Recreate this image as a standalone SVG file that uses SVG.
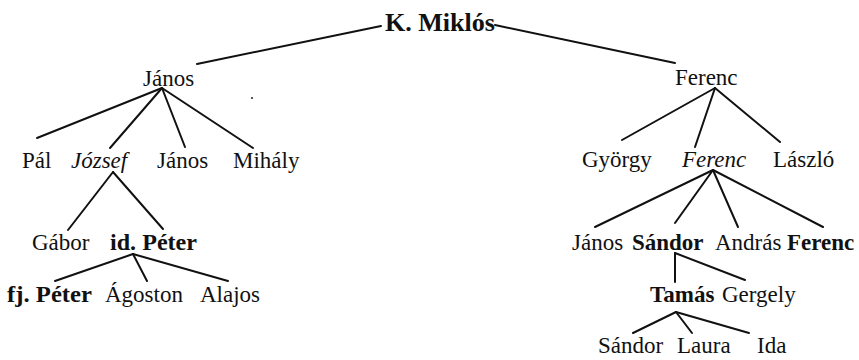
<svg xmlns="http://www.w3.org/2000/svg" width="859" height="360" viewBox="0 0 859 360" font-family="Liberation Serif, DejaVu Serif, serif">
<style>
text{font-size:23px;fill:#111}
.b{font-weight:bold}
.i{font-style:italic}
.root{font-size:26px;font-weight:bold}
#edges line{stroke:#111;stroke-width:2;stroke-linecap:round}
</style>
<rect width="859" height="360" fill="#fff"/>
<g id="edges">
<line x1="381" y1="26" x2="197" y2="64"/>
<line x1="495" y1="25" x2="675" y2="63"/>
<line x1="162" y1="88" x2="37" y2="138"/>
<line x1="162" y1="88" x2="110" y2="148"/>
<line x1="162" y1="88" x2="185" y2="147"/>
<line x1="162" y1="88" x2="253" y2="148"/>
<line x1="113" y1="172" x2="68" y2="230"/>
<line x1="113" y1="172" x2="163" y2="229"/>
<line x1="133" y1="254" x2="55" y2="281"/>
<line x1="133" y1="254" x2="147" y2="281"/>
<line x1="133" y1="254" x2="228" y2="281"/>
<line x1="715" y1="88" x2="622" y2="140"/>
<line x1="715" y1="88" x2="695" y2="147"/>
<line x1="715" y1="88" x2="780" y2="142"/>
<line x1="713" y1="170" x2="595" y2="227"/>
<line x1="713" y1="170" x2="675" y2="223"/>
<line x1="713" y1="170" x2="738" y2="227"/>
<line x1="713" y1="170" x2="823" y2="227"/>
<line x1="675" y1="253" x2="675" y2="282"/>
<line x1="675" y1="253" x2="745" y2="280"/>
<line x1="676" y1="312" x2="633" y2="333"/>
<line x1="676" y1="312" x2="692" y2="333"/>
<line x1="676" y1="312" x2="749" y2="333"/>
</g>
<circle cx="252" cy="98" r="1.1" fill="#333"/>
<g id="n-miklos"><text class="root" x="385" y="31" textLength="110" lengthAdjust="spacingAndGlyphs">K. Miklós</text></g>
<g id="n-janos1"><text x="143" y="86">János</text></g>
<g id="n-ferenc1"><text x="675" y="85">Ferenc</text></g>
<g id="n-pal"><text x="22" y="168">Pál</text></g>
<g id="n-jozsef"><text class="i" x="71" y="168">József</text></g>
<g id="n-janos2"><text x="157" y="168">János</text></g>
<g id="n-mihaly"><text x="233" y="168">Mihály</text></g>
<g id="n-gyorgy"><text x="582" y="167">György</text></g>
<g id="n-ferenc2"><text class="i" x="682" y="167">Ferenc</text></g>
<g id="n-laszlo"><text x="773" y="167">László</text></g>
<g id="n-gabor"><text x="32" y="250">Gábor</text></g>
<g id="n-idpeter"><text class="b" x="110" y="250" textLength="87" lengthAdjust="spacingAndGlyphs">id. Péter</text></g>
<g id="n-fjpeter"><text class="b" x="7" y="302" textLength="85" lengthAdjust="spacingAndGlyphs">fj. Péter</text></g>
<g id="n-agoston"><text x="105" y="302">Ágoston</text></g>
<g id="n-alajos"><text x="200" y="302">Alajos</text></g>
<g id="n-janos3"><text x="572" y="250">János</text></g>
<g id="n-sandor1"><text class="b" x="632" y="250">Sándor</text></g>
<g id="n-andras"><text x="715" y="250">András</text></g>
<g id="n-ferenc3"><text class="b" x="787" y="250">Ferenc</text></g>
<g id="n-tamas"><text class="b" x="650" y="302">Tamás</text></g>
<g id="n-gergely"><text x="722" y="302">Gergely</text></g>
<g id="n-sandor2"><text x="598" y="353">Sándor</text></g>
<g id="n-laura"><text x="677" y="353">Laura</text></g>
<g id="n-ida"><text x="757" y="353">Ida</text></g>
</svg>
